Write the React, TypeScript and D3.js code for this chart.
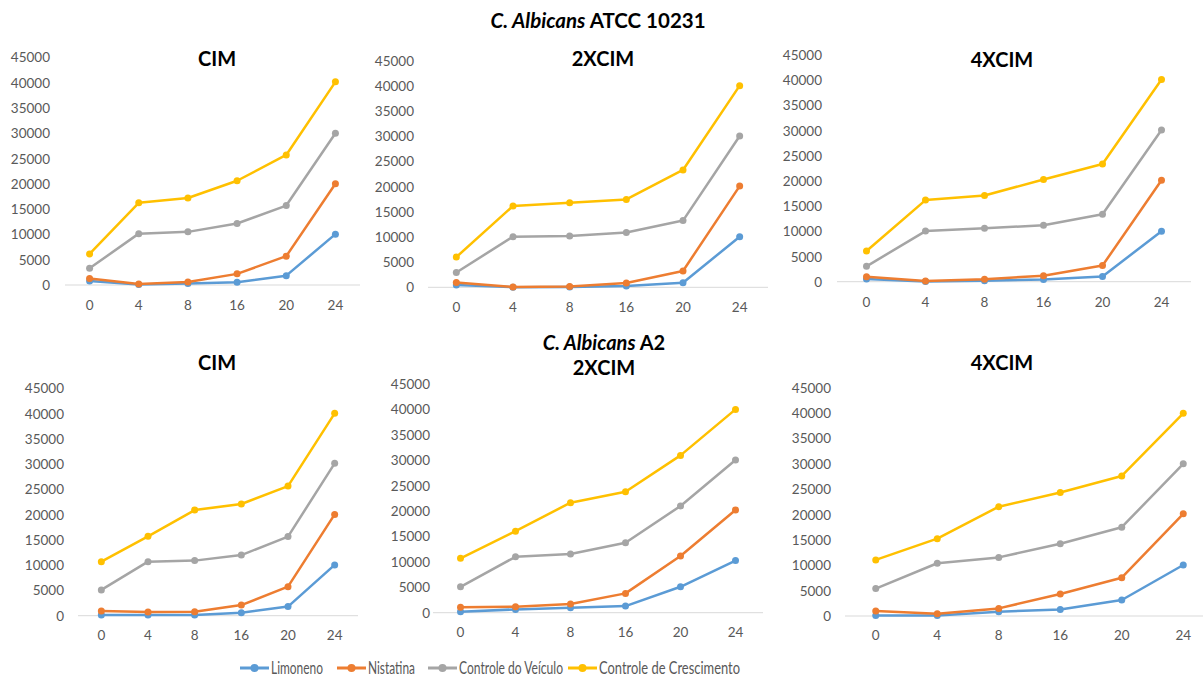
import React, { useEffect, useRef } from "react";
import * as d3 from "d3";

const categories = ["0", "4", "8", "16", "20", "24"];
const yTicks = [0, 5000, 10000, 15000, 20000, 25000, 30000, 35000, 40000, 45000];
const seriesNames = ["Limoneno", "Nistatina", "Controle do Veículo", "Controle de Crescimento"];
const seriesColors = ["#5B9BD5", "#ED7D31", "#A5A5A5", "#FFC000"];

// C. Albicans ATCC 10231
const atccCimLimoneno = [800, 100, 300, 550, 1850, 10050];
const atccCimNistatina = [1300, 200, 600, 2200, 5700, 20000];
const atccCimVeiculo = [3300, 10150, 10500, 12150, 15700, 30000];
const atccCimCrescimento = [6150, 16250, 17200, 20600, 25700, 40150];

const atcc2xLimoneno = [450, 30, 50, 250, 900, 10050];
const atcc2xNistatina = [950, 50, 150, 850, 3250, 20100];
const atcc2xVeiculo = [2950, 10050, 10200, 10900, 13250, 30050];
const atcc2xCrescimento = [6000, 16150, 16800, 17450, 23300, 40050];

const atcc4xLimoneno = [550, 50, 200, 450, 1050, 10000];
const atcc4xNistatina = [1000, 150, 500, 1200, 3200, 20150];
const atcc4xVeiculo = [3050, 10050, 10600, 11200, 13400, 30100];
const atcc4xCrescimento = [6100, 16200, 17100, 20300, 23350, 40150];

// C. Albicans A2
const a2CimLimoneno = [150, 150, 150, 600, 1800, 10050];
const a2CimNistatina = [920, 730, 800, 2100, 5750, 20050];
const a2CimVeiculo = [5100, 10700, 10900, 12000, 15650, 30150];
const a2CimCrescimento = [10700, 15700, 20900, 22100, 25650, 40050];

const a22xLimoneno = [200, 650, 980, 1300, 5100, 10250];
const a22xNistatina = [1050, 1180, 1700, 3800, 11150, 20200];
const a22xVeiculo = [5100, 11000, 11550, 13750, 21000, 30050];
const a22xCrescimento = [10700, 16050, 21650, 23800, 30950, 40000];

const a24xLimoneno = [80, 80, 850, 1300, 3150, 10050];
const a24xNistatina = [1000, 450, 1500, 4350, 7550, 20150];
const a24xVeiculo = [5400, 10400, 11550, 14250, 17500, 30000];
const a24xCrescimento = [11050, 15250, 21550, 24350, 27600, 39950];

const panelTitles = ["CIM", "2XCIM", "4XCIM", "CIM", "2XCIM", "4XCIM"];
const panelSeries = [
  [atccCimLimoneno, atccCimNistatina, atccCimVeiculo, atccCimCrescimento],
  [atcc2xLimoneno, atcc2xNistatina, atcc2xVeiculo, atcc2xCrescimento],
  [atcc4xLimoneno, atcc4xNistatina, atcc4xVeiculo, atcc4xCrescimento],
  [a2CimLimoneno, a2CimNistatina, a2CimVeiculo, a2CimCrescimento],
  [a22xLimoneno, a22xNistatina, a22xVeiculo, a22xCrescimento],
  [a24xLimoneno, a24xNistatina, a24xVeiculo, a24xCrescimento],
];

// layout (pixels)
const layouts = [
  { x0: 65, x1: 360, y0: 285, yTop: 57.3, labelRight: 50, xLabelY: 305, tx: 217, ty: 58 },
  { x0: 428, x1: 768, y0: 287.3, yTop: 60.7, labelRight: 414, xLabelY: 307, tx: 603, ty: 58 },
  { x0: 837, x1: 1191, y0: 281.7, yTop: 55, labelRight: 822, xLabelY: 302, tx: 1002, ty: 59 },
  { x0: 78, x1: 358, y0: 615.7, yTop: 388.3, labelRight: 64, xLabelY: 635, tx: 217, ty: 362 },
  { x0: 433, x1: 763, y0: 612.7, yTop: 384, labelRight: 430, xLabelY: 632, tx: 604, ty: 367 },
  { x0: 845, x1: 1214, y0: 616, yTop: 387.7, labelRight: 831, xLabelY: 635, tx: 1002, ty: 362 },
];
const legendX = [240, 337, 428, 568];
const legendTextWidths = [52, 47, 104, 141];

const FONT = "Lato, 'Open Sans', sans-serif";

export default function App() {
  const ref = useRef<SVGSVGElement | null>(null);

  useEffect(() => {
    document.body.style.margin = "0";
    const svg = d3.select(ref.current);
    svg.selectAll("*").remove();

    // Main titles
    const t1 = svg.append("text").attr("x", 598).attr("y", 20).attr("text-anchor", "middle")
      .attr("dominant-baseline", "central").attr("font-family", FONT).attr("font-weight", "bold")
      .attr("font-size", 20.5).attr("fill", "#000");
    t1.append("tspan").attr("font-style", "italic").text("C. Albicans");
    t1.append("tspan").text(" ATCC 10231");

    const t2 = svg.append("text").attr("x", 604).attr("y", 342).attr("text-anchor", "middle")
      .attr("dominant-baseline", "central").attr("font-family", FONT).attr("font-weight", "bold")
      .attr("font-size", 20).attr("fill", "#000");
    t2.append("tspan").attr("font-style", "italic").text("C. Albicans");
    t2.append("tspan").text(" A2");

    layouts.forEach((L, pi) => {
      const g = svg.append("g");
      const x = d3.scalePoint<string>().domain(categories).range([L.x0, L.x1]).padding(0.5);
      const y = d3.scaleLinear().domain([0, 45000]).range([L.y0, L.yTop]);

      g.append("text").attr("x", L.tx).attr("y", L.ty).attr("text-anchor", "middle")
        .attr("dominant-baseline", "central").attr("font-family", FONT).attr("font-weight", "bold")
        .attr("font-size", 20).attr("fill", "#000").text(panelTitles[pi]);

      // y tick labels
      g.selectAll(".yt").data(yTicks).enter().append("text")
        .attr("x", L.labelRight).attr("y", (d) => y(d))
        .attr("text-anchor", "end").attr("dominant-baseline", "central")
        .attr("font-family", FONT).attr("font-size", 13.5).attr("fill", "#595959")
        .text((d) => String(d));

      // baseline
      g.append("line").attr("x1", L.x0).attr("x2", L.x1).attr("y1", y(0)).attr("y2", y(0))
        .attr("stroke", "#D9D9D9").attr("stroke-width", 1);

      // x labels
      g.selectAll(".xt").data(categories).enter().append("text")
        .attr("x", (d) => x(d) as number).attr("y", L.xLabelY)
        .attr("text-anchor", "middle").attr("dominant-baseline", "central")
        .attr("font-family", FONT).attr("font-size", 13.5).attr("fill", "#595959")
        .text((d) => d);

      const line = d3.line<number>().x((_, i) => x(categories[i]) as number).y((d) => y(d));
      panelSeries[pi].forEach((vals, si) => {
        g.append("path").attr("d", line(vals) as string).attr("fill", "none")
          .attr("stroke", seriesColors[si]).attr("stroke-width", 2.5)
          .attr("stroke-linejoin", "round").attr("stroke-linecap", "round");
        g.selectAll(".m" + si).data(vals).enter().append("circle")
          .attr("cx", (_, i) => x(categories[i]) as number).attr("cy", (d) => y(d))
          .attr("r", 3.5).attr("fill", seriesColors[si]);
      });
    });

    // Legend
    const legendY = 668;
    seriesNames.forEach((name, i) => {
      const lg = svg.append("g");
      lg.append("line").attr("x1", legendX[i]).attr("x2", legendX[i] + 29)
        .attr("y1", legendY).attr("y2", legendY).attr("stroke", seriesColors[i]).attr("stroke-width", 3);
      lg.append("circle").attr("cx", legendX[i] + 14.5).attr("cy", legendY).attr("r", 4).attr("fill", seriesColors[i]);
      lg.append("text").attr("x", legendX[i] + 31).attr("y", legendY).attr("dominant-baseline", "central")
        .attr("font-family", FONT).attr("font-size", 16.5).attr("fill", "#595959")
        .attr("textLength", legendTextWidths[i]).attr("lengthAdjust", "spacingAndGlyphs")
        .text(name);
    });
  }, []);

  return <svg ref={ref} width={1203} height={677} style={{ display: "block", background: "#fff" }} />;
}
